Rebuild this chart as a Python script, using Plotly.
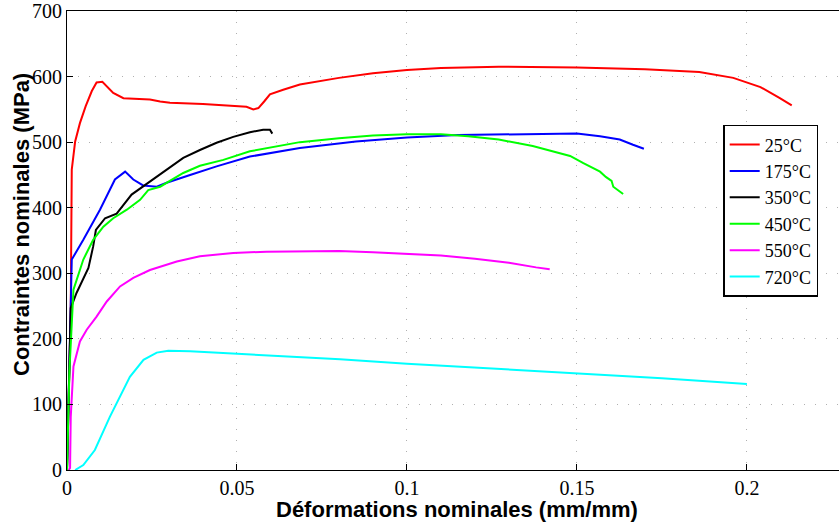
import plotly.graph_objects as go

# --- data ---
labels = ["25°C", "175°C", "350°C", "450°C", "550°C", "720°C"]
colors = ["#ff0000", "#0000ff", "#000000", "#00ff00", "#ff00ff", "#00ffff"]

x25 = [0, 0.0005, 0.0011, 0.0014, 0.0024, 0.0038, 0.0055, 0.0073, 0.0087, 0.0104, 0.012, 0.0136, 0.0166, 0.02,
       0.0244, 0.0274, 0.0303, 0.04, 0.0489, 0.0528, 0.0548, 0.0563, 0.058, 0.0597, 0.0636, 0.0685, 0.08, 0.09,
       0.1, 0.11, 0.127, 0.14, 0.15, 0.17, 0.186, 0.196, 0.204, 0.2097, 0.2132]
y25 = [0, 120, 244, 458, 501, 529, 555, 578, 591, 592, 584, 575, 567, 566, 565, 562, 560, 558, 556, 554, 550,
       552, 562, 573, 580, 588, 598, 605, 610, 613, 615, 615, 614, 611, 607, 598, 584, 567, 556]

x175 = [0, 0.0008, 0.0014, 0.0048, 0.0097, 0.0141, 0.0171, 0.0195, 0.0224, 0.0264, 0.0293, 0.0362, 0.044, 0.0538,
        0.0685, 0.085, 0.1, 0.115, 0.127, 0.14, 0.15, 0.1568, 0.1626, 0.1665, 0.1697]
y175 = [0, 200, 321, 351, 397, 443, 455, 443, 434, 432, 438, 450, 463, 478, 491, 501, 507, 511, 512, 513, 513,
        509, 504, 496, 490]

x350 = [0, 0.0006, 0.0011, 0.0028, 0.0063, 0.0077, 0.0085, 0.0112, 0.0146, 0.019, 0.0244, 0.0293, 0.0342, 0.0391,
        0.044, 0.0489, 0.0538, 0.0577, 0.0597, 0.0604]
y350 = [0, 150, 247, 270, 308, 341, 366, 384, 391, 420, 440, 458, 476, 488, 499, 508, 515, 519, 519, 513]

x450 = [0, 0.0007, 0.0019, 0.0048, 0.0077, 0.0107, 0.0136, 0.0176, 0.0215, 0.0239, 0.0274, 0.0342, 0.0391, 0.046,
        0.0538, 0.0617, 0.0685, 0.08, 0.09, 0.1, 0.11, 0.118, 0.127, 0.137, 0.144, 0.148, 0.1519, 0.1568, 0.1585,
        0.1602, 0.1607, 0.1636]
y450 = [0, 150, 275, 321, 351, 371, 384, 397, 412, 427, 432, 453, 464, 473, 486, 494, 500, 506, 510, 512, 512,
        509, 504, 494, 484, 479, 468, 455, 447, 441, 432, 421]

x550 = [0.0005, 0.0009, 0.0011, 0.0019, 0.0038, 0.0058, 0.0087, 0.0117, 0.0156, 0.0195, 0.0244, 0.0323, 0.0391,
        0.0489, 0.0587, 0.07, 0.08, 0.09, 0.1, 0.11, 0.12, 0.13, 0.138, 0.142]
y550 = [0, 3, 81, 158, 196, 214, 234, 257, 280, 293, 305, 318, 326, 331, 333, 333, 334, 332, 330, 327, 322, 316,
        309, 306]

x720 = [0.0024, 0.0048, 0.0082, 0.0126, 0.0185, 0.0225, 0.0264, 0.0298, 0.0362, 0.0509, 0.0803, 0.1, 0.125, 0.15,
        0.175, 0.2]
y720 = [0, 7.6, 30.5, 81, 142, 168, 179, 182, 181, 177, 169, 162, 155, 148, 140, 131]

xs = [x25, x175, x350, x450, x550, x720]
ys = [y25, y175, y350, y450, y550, y720]

xticks = [0, 0.05, 0.1, 0.15, 0.2]
xticklabels = ["0", "0.05", "0.1", "0.15", "0.2"]
yticks = [0, 100, 200, 300, 400, 500, 600, 700]

x_title = "Déformations nominales (mm/mm)"
y_title = "Contraintes nominales (MPa)"

fig = go.Figure()
for x, y, lab, c in zip(xs, ys, labels, colors):
    fig.add_trace(go.Scatter(x=x, y=y, mode="lines", name=lab, line=dict(color=c, width=2)))

serif = "Liberation Serif"
sans = "Liberation Sans"

fig.update_layout(
    width=839, height=523,
    margin=dict(l=67, r=0, t=11, b=53, autoexpand=False),
    plot_bgcolor="white", paper_bgcolor="white",
    showlegend=True,
    legend=dict(
        x=0.850, y=0.752, xanchor="left", yanchor="top",
        font=dict(family=serif, size=18, color="black"),
        bordercolor="black", borderwidth=1.5, bgcolor="white",
    ),
    xaxis=dict(
        range=[0, 0.2271], tickvals=xticks, ticktext=xticklabels,
        showline=True, linecolor="black", linewidth=1, mirror=True,
        ticks="inside", ticklen=6, tickcolor="black",
        showgrid=True, gridcolor="#b0b0b0", griddash="1px,10px", gridwidth=1,
        zeroline=False, ticklabelstandoff=0, ticklabeloverflow="allow",
        tickfont=dict(family=serif, size=20, color="black"),
    ),
    yaxis=dict(
        range=[0, 700], tickvals=yticks,
        showline=True, linecolor="black", linewidth=1,
        ticks="inside", ticklen=6, tickcolor="black",
        showgrid=True, gridcolor="#b0b0b0", griddash="1px,10px", gridwidth=1,
        zeroline=False, ticklabeloverflow="allow",
        tickfont=dict(family=serif, size=20, color="black"),
    ),
    annotations=[
        dict(text="<b>" + x_title + "</b>", xref="paper", yref="paper", x=0.505, y=-0.087,
             xanchor="center", yanchor="middle", showarrow=False,
             font=dict(family=sans, size=22, color="black")),
        dict(text="<b>" + y_title + "</b>", xref="paper", yref="paper", x=-0.0583, y=0.536,
             xanchor="center", yanchor="middle", showarrow=False, textangle=-90,
             font=dict(family=sans, size=22, color="black")),
    ],
)

fig.write_html("out.html", config={"displayModeBar": False},
               post_script="document.body.style.margin='0';")
